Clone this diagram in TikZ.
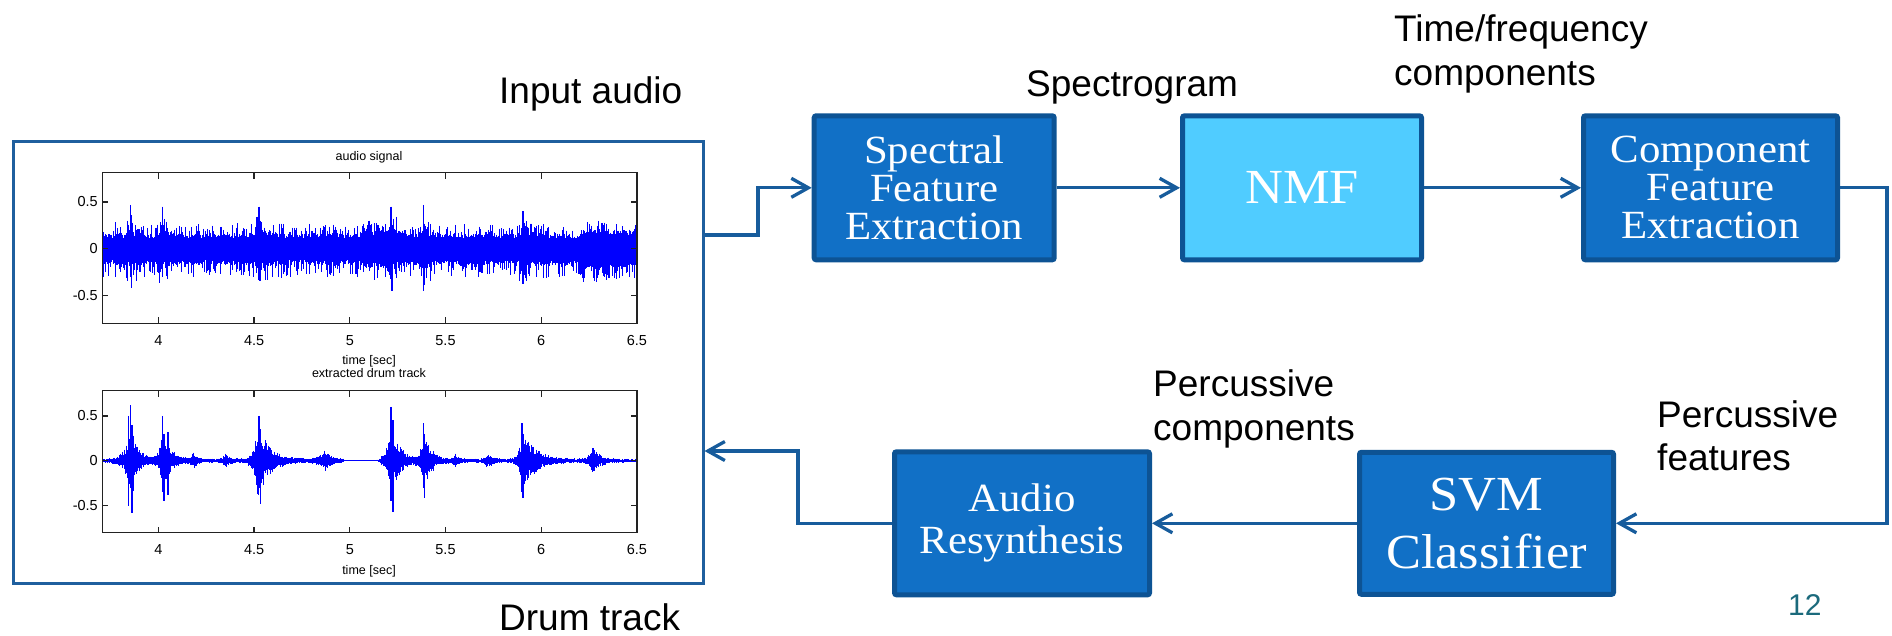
\documentclass[tikz,border=0pt]{standalone}
\usepackage{fontspec}
\setmainfont{Liberation Serif}
\newfontfamily\lblfont{Liberation Sans}
\newfontfamily\boxfont[FakeStretch=1.07]{Liberation Serif}
\usetikzlibrary{arrows.meta,calc}
\definecolor{boxfill}{HTML}{1170C6}
\definecolor{boxline}{HTML}{0D5394}
\definecolor{nmffill}{HTML}{50CCFF}
\definecolor{connc}{HTML}{175C9C}
\definecolor{imgline}{HTML}{1F5F9E}
\definecolor{pagenum}{HTML}{1B6A7C}
\definecolor{sigblue}{HTML}{0000FF}
\definecolor{axisc}{HTML}{222222}
\begin{document}
\begin{tikzpicture}[x=1pt,y=-1pt,
  blockbox/.style={draw=boxline, line width=5pt, fill=boxfill, rounded corners=2pt,
    text=white, font=\boxfont\fontsize{40}{38}\selectfont, align=center, inner sep=0pt},
  bigtext/.style={font=\boxfont\fontsize{49}{58}\selectfont},
  conn/.style={draw=connc, line width=3.3pt},
  arr/.style={conn, -{Straight Barb[length=17pt,width=19pt]}},
  lbl/.style={font=\lblfont\fontsize{37}{43.4}\selectfont, align=left, anchor=base west, inner sep=0pt},
  plotlbl/.style={font=\lblfont\fontsize{12.5}{14}\selectfont, inner sep=0pt},
  ticklbl/.style={font=\lblfont\fontsize{14.5}{16}\selectfont, inner sep=0pt},
  axis/.style={draw=axisc, line width=1.2pt},
  sig/.style={draw=sigblue, line width=1.08pt},
  spike/.style={draw=sigblue, line width=1.4pt}]
\useasboundingbox (0,0) rectangle (1892,635);
\fill[white] (0,0) rectangle (1892,635);

% image frame
\node[draw=imgline, line width=3pt, fill=white, minimum width=690, minimum height=442,
  inner sep=0pt, anchor=north west] (img) at (11.5,139.5) {};

% signals
\pgfmathsetseed{12345}
\foreach \i in {0,...,534}{
  \pgfmathsetmacro{\tcur}{3.707+\i/191.4}
  \pgfmathsetmacro{\xc}{102.3+\i}
  \gdef\envd{0}
  \foreach \tz/\A/\tc/\rs in {3.855/0.36/0.04/0.03,
      4.02/0.36/0.04/0.015, 4.18/0.09/0.02/0.012,
      4.35/0.07/0.025/0.015, 4.52/0.42/0.06/0.02,
      4.87/0.11/0.035/0.03, 5.215/0.4/0.045/0.02,
      5.385/0.33/0.04/0.015, 5.55/0.07/0.02/0.012,
      5.72/0.08/0.025/0.015, 5.9/0.36/0.065/0.015,
      6.27/0.15/0.035/0.02}{
    \pgfmathparse{\envd+\A*exp(-min(ifthenelse(\tcur<\tz,(\tz-\tcur)/\rs,(\tcur-\tz)/\tc),9))}
    \xdef\envd{\pgfmathresult}
  }
  \pgfmathsetmacro{\fl}{ifthenelse(and(\tcur>4.97,\tcur<5.16),0.004,0.022)}
  \pgfmathsetmacro{\bup}{\envd*(0.4+0.6*rnd)+\fl*(0.4+0.6*rnd)}
  \pgfmathsetmacro{\bdn}{\envd*(0.4+0.6*rnd)+\fl*(0.4+0.6*rnd)}
  \pgfmathsetmacro{\bump}{0.04*(\tcur>6.2)+0.03*and(\tcur>5.05,\tcur<5.23)}
  \pgfmathsetmacro{\tup}{0.11+0.05*rnd+ifthenelse(rnd>0.5,0.12*rnd,0)+0.45*\envd*rnd+\bump}
  \pgfmathsetmacro{\tdn}{0.12+0.05*rnd+ifthenelse(rnd>0.5,0.15*rnd,0)+0.45*\envd*rnd+\bump}
  \draw[sig] (\xc,{248.7-\tup*93.3}) -- (\xc,{248.7+\tdn*93.3});
  \draw[sig] (\xc,{460.7-\bup*89.7}) -- (\xc,{460.7+\bdn*89.7});
}
% isolated spikes
\foreach \t/\u/\d in {3.853/0.47/0.30, 3.86/0.25/0.42, 3.84/0.3/0.35, 4.02/0.45/0.3,
    4.525/0.45/0.25, 4.53/0.3/0.35, 5.215/0.45/0.3, 5.22/0.2/0.45, 5.385/0.47/0.45,
    5.905/0.4/0.38, 6.3/0.3/0.28, 5.1/0.3/0.2}{
  \pgfmathsetmacro{\xc}{102.3+(\t-3.707)*191.4}
  \draw[spike] (\xc,{248.7-\u*93.3}) -- (\xc,{248.7+\d*93.3});
}
\foreach \t/\u/\d in {3.855/0.62/0.3, 3.862/0.4/0.58, 3.845/0.5/0.5, 4.02/0.5/0.35,
    4.03/0.3/0.45, 4.525/0.5/0.3, 4.532/0.35/0.48, 5.215/0.6/0.45, 5.225/0.45/0.57,
    5.385/0.42/0.3, 5.39/0.3/0.42, 5.9/0.42/0.35, 5.905/0.3/0.42, 6.27/0.14/0.12,
    4.05/0.32/0.38, 3.87/0.28/0.34}{
  \pgfmathsetmacro{\xc}{102.3+(\t-3.707)*191.4}
  \draw[spike] (\xc,{460.7-\u*89.7}) -- (\xc,{460.7+\d*89.7});
}

% axes
\draw[axis] (102.3,172.7) rectangle (636.9,323.3);
\draw[axis] (102.3,390.7) rectangle (636.9,532.7);
\foreach \v [count=\k] in {4,4.5,5,5.5,6,6.5}{
  \pgfmathsetmacro{\xx}{102.3+(\v-3.707)*191.4}
  \draw[axis] (\xx,323.3) -- ++(0,-6) (\xx,172.7) -- ++(0,6);
  \draw[axis] (\xx,532.7) -- ++(0,-6) (\xx,390.7) -- ++(0,6);
  \node[ticklbl, anchor=base] (xa\k) at (\xx,345) {\v};
  \node[ticklbl, anchor=base] (xb\k) at (\xx,554) {\v};
}
\foreach \yy/\lab [count=\k] in {202/0.5,248.7/0,295.4/-0.5}{
  \draw[axis] (102.3,\yy) -- ++(6,0) (636.9,\yy) -- ++(-6,0);
  \node[ticklbl, anchor=east] (ya\k) at (98,\yy) {\lab};
}
\foreach \yy/\lab [count=\k] in {416/0.5,460.7/0,505.7/-0.5}{
  \draw[axis] (102.3,\yy) -- ++(6,0) (636.9,\yy) -- ++(-6,0);
  \node[ticklbl, anchor=east] (yb\k) at (98,\yy) {\lab};
}
\node[plotlbl, anchor=base] (t1) at (369,160) {audio signal};
\node[plotlbl, anchor=base] (x1) at (369,364) {time [sec]};
\node[plotlbl, anchor=base] (t2) at (369,377.5) {extracted drum track};
\node[plotlbl, anchor=base] (x2) at (369,574) {time [sec]};

% blocks
\node[blockbox, minimum width=240, minimum height=144] (spec) at (934.2,187.8) {Spectral\\Feature\\Extraction};
\node[blockbox, fill=nmffill, bigtext, minimum width=239, minimum height=144] (nmf) at (1302,187.8) {NMF};
\node[blockbox, minimum width=254, minimum height=144] (comp) at (1710.5,187.8) {Component\\Feature\\Extraction};
\node[blockbox, bigtext, minimum width=254, minimum height=142] (svm) at (1486.5,523.3) {SVM\\Classifier};
\node[blockbox, font=\boxfont\fontsize{40}{42}\selectfont, minimum width=255, minimum height=143] (audio) at (1022,523.3) {Audio\\Resynthesis};

% labels (base anchor = baseline of last line)
\node[lbl] (lin) at (499,103) {Input audio};
\node[lbl] (lspec) at (1026,96) {Spectrogram};
\node[lbl] (ltf) at (1394,85) {Time/frequency\\components};
\node[lbl] (lpf) at (1657,470.7) {Percussive\\features};
\node[lbl] (lpc) at (1153,440) {Percussive\\components};
\node[lbl] (ldrum) at (499,630) {Drum track};
\node[font=\lblfont\fontsize{30}{30}\selectfont, text=pagenum, anchor=base west, inner sep=0pt] (pg) at (1788,615) {12};

% connectors
\coordinate (j1) at (758,235);
\draw[arr] (img.east |- j1) -- (j1) |- (spec.west);
\draw[arr] (spec) -- (nmf);
\draw[arr] (nmf) -- (comp);
\coordinate (j2) at (1887,0);
\draw[arr] (comp.east) -| (j2 |- svm.east) -- (svm.east);
\draw[arr] (svm) -- (audio);
\coordinate (j3) at (798,451);
\draw[arr] (audio.west) -| (j3) -- (img.east |- j3);
\end{tikzpicture}
\end{document}
